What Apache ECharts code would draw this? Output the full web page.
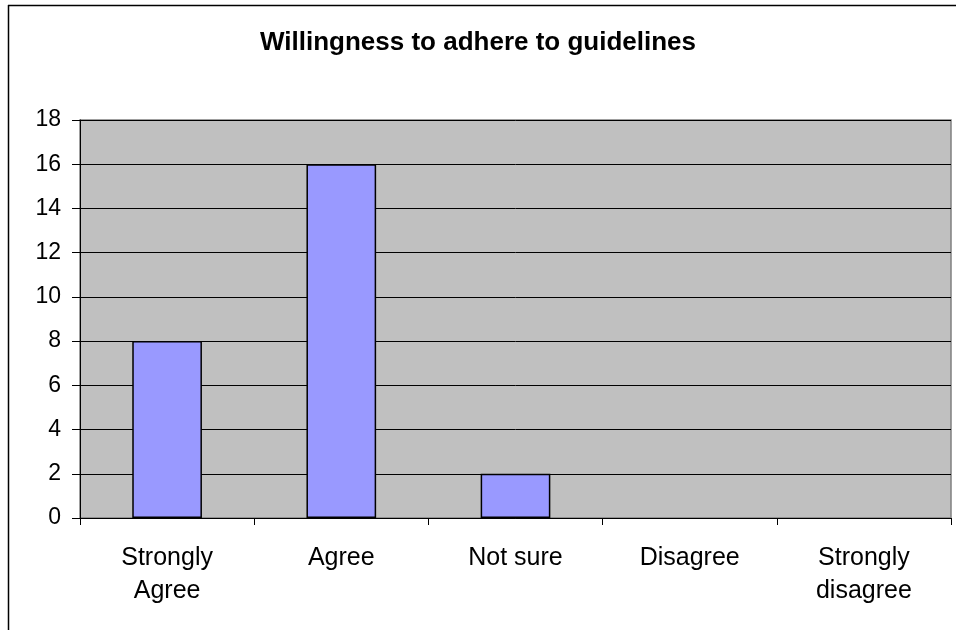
<!DOCTYPE html>
<html>
<head>
<meta charset="utf-8">
<style>
  html, body { margin: 0; padding: 0; background: #ffffff; }
  #chart { width: 956px; height: 630px; }
</style>
<script src="https://cdn.jsdelivr.net/npm/echarts@6/dist/echarts.min.js"></script>
</head>
<body>
<div id="chart"></div>
<script>
const titleText = 'Willingness to adhere to guidelines';
const categories = ['Strongly\nAgree', 'Agree', 'Not sure', 'Disagree', 'Strongly\ndisagree'];
const responses = [8, 16, 2, 0, 0];
const yTicks = { min: 0, max: 18, interval: 2 };

const chart = echarts.init(document.getElementById('chart'), null, { renderer: 'canvas' });
const font = '"Liberation Sans", Arial, sans-serif';

// zero-height bars get no outline so nothing is drawn over the axis
const barData = responses.map(v => v === 0 ? { value: v, itemStyle: { borderWidth: 0 } } : v);

chart.setOption({
  animation: false,
  backgroundColor: '#ffffff',
  title: {
    text: titleText,
    left: 'center',
    top: 25,
    textStyle: { fontFamily: font, fontSize: 26, fontWeight: 'bold', color: '#000' }
  },
  graphic: [
    // frame around the chart area (top and left edges)
    { type: 'line', shape: { x1: 8, y1: 5.5, x2: 956, y2: 5.5 }, style: { stroke: '#000', lineWidth: 1.5 } },
    { type: 'line', shape: { x1: 8.5, y1: 5, x2: 8.5, y2: 630 }, style: { stroke: '#000', lineWidth: 1.5 } }
  ],
  grid: {
    left: 80, right: 5, top: 120, bottom: 112,
    show: true,
    backgroundColor: '#c0c0c0',
    borderColor: '#808080',
    borderWidth: 1.5
  },
  xAxis: {
    type: 'category',
    data: categories,
    axisLine: { lineStyle: { color: '#000', width: 1 } },
    axisTick: { show: true, alignWithLabel: false, length: 7, lineStyle: { color: '#000' } },
    axisLabel: { fontFamily: font, fontSize: 25, color: '#000', margin: 24, lineHeight: 33, interval: 0 }
  },
  yAxis: {
    type: 'value',
    min: yTicks.min, max: yTicks.max, interval: yTicks.interval,
    axisLine: { show: true, lineStyle: { color: '#000', width: 1 } },
    axisTick: { show: true, length: 8, lineStyle: { color: '#000' } },
    axisLabel: { fontFamily: font, fontSize: 23, color: '#000', margin: 19 },
    splitLine: { show: true, lineStyle: { color: '#000', width: 1 } }
  },
  series: [{
    type: 'bar',
    data: barData,
    barWidth: '40%',
    itemStyle: { color: '#9999ff', borderColor: '#000', borderWidth: 1.5 }
  }]
});
</script>
</body>
</html>
